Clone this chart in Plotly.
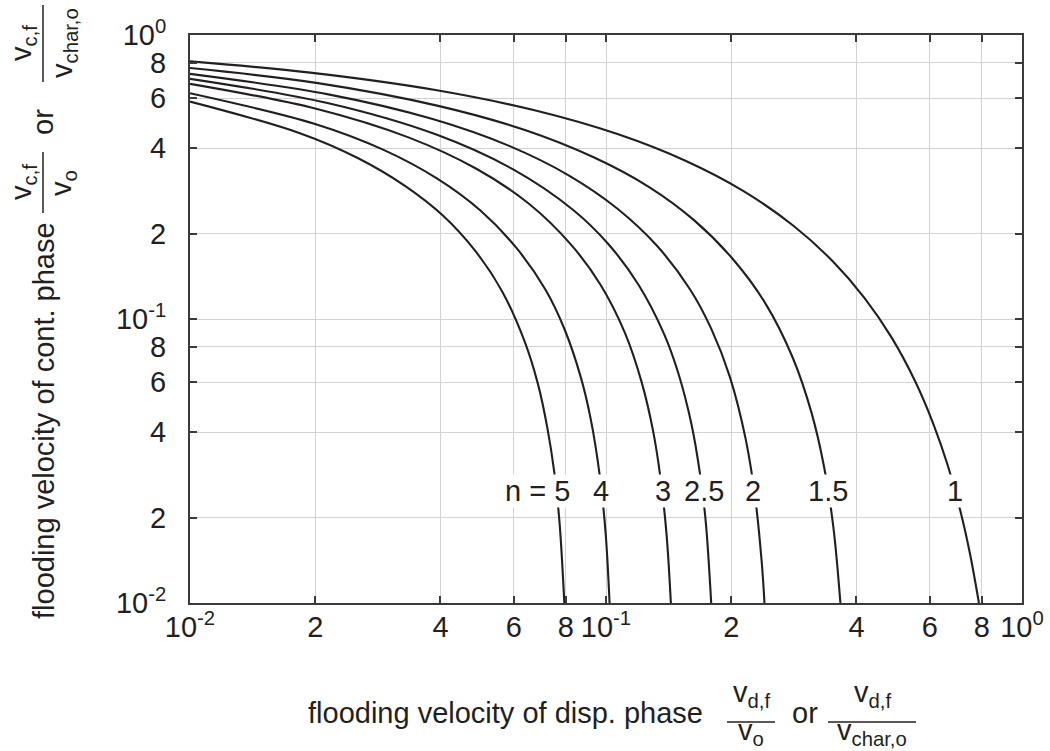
import math
import plotly.graph_objects as go

# ---------------- data ----------------
n_values = ["1", "1.5", "2", "2.5", "3", "4", "5"]

x_n1 = [0.01, 0.01946, 0.0389, 0.0681, 0.107, 0.1557, 0.2141, 0.2822, 0.3503, 0.4184, 0.4865, 0.5546, 0.613, 0.6616, 0.7103, 0.7492, 0.788]
y_n1 = [0.8075, 0.737, 0.640, 0.541, 0.447, 0.360, 0.282, 0.213, 0.160, 0.1185, 0.0858, 0.0600, 0.0425, 0.0308, 0.0212, 0.0150, 0.010]

x_n15 = [0.01, 0.0203, 0.0395, 0.0641, 0.0934, 0.1267, 0.163, 0.2015, 0.2412, 0.281, 0.312, 0.3343, 0.352, 0.366]
y_n15 = [0.765, 0.677, 0.563, 0.462, 0.371, 0.292, 0.2225, 0.163, 0.114, 0.0732, 0.0467, 0.0302, 0.0185, 0.010]

x_n2 = [0.01, 0.0215, 0.0383, 0.0585, 0.0815, 0.1064, 0.1326, 0.1593, 0.1791, 0.1984, 0.2168, 0.2285, 0.2369, 0.2404]
y_n2 = [0.730, 0.618, 0.506, 0.407, 0.320, 0.245, 0.181, 0.127, 0.0923, 0.0627, 0.0376, 0.0233, 0.0138, 0.010]

x_n25 = [0.01, 0.0214, 0.0391, 0.0601, 0.0834, 0.1015, 0.1197, 0.1377, 0.1493, 0.1605, 0.1685, 0.1737, 0.1790]
y_n25 = [0.701, 0.576, 0.446, 0.335, 0.242, 0.183, 0.132, 0.089, 0.0643, 0.0426, 0.0281, 0.0193, 0.010]

x_n3 = [0.01, 0.0201, 0.0335, 0.0488, 0.0654, 0.0826, 0.097, 0.1111, 0.1219, 0.1298, 0.1348, 0.1397, 0.1432]
y_n3 = [0.673, 0.550, 0.436, 0.338, 0.254, 0.182, 0.132, 0.0892, 0.0597, 0.0403, 0.0285, 0.0177, 0.010]

x_n4 = [0.01, 0.0199, 0.0292, 0.0393, 0.0499, 0.0607, 0.0715, 0.0794, 0.087, 0.0919, 0.0966, 0.0998, 0.1020]
y_n4 = [0.624, 0.487, 0.394, 0.312, 0.241, 0.179, 0.127, 0.0924, 0.0623, 0.0444, 0.0281, 0.0176, 0.010]

x_n5 = [0.01, 0.0183, 0.0253, 0.0328, 0.0406, 0.0484, 0.0562, 0.0637, 0.0686, 0.0723, 0.0751, 0.0773, 0.0794]
y_n5 = [0.583, 0.452, 0.369, 0.295, 0.231, 0.1744, 0.1256, 0.0836, 0.0591, 0.0413, 0.0289, 0.0193, 0.010]

tick_vals = [0.01, 0.02, 0.04, 0.06, 0.08, 0.1, 0.2, 0.4, 0.6, 0.8, 1.0]
tick_text = ["10<sup>-2</sup>", "2", "4", "6", "8", "10<sup>-1</sup>", "2", "4", "6", "8", "10<sup>0</sup>"]

curves = [
    (x_n1, y_n1), (x_n15, y_n15), (x_n2, y_n2), (x_n25, y_n25),
    (x_n3, y_n3), (x_n4, y_n4), (x_n5, y_n5),
]

# curve label texts and their positions (data units)
label_text = ["1", "1.5", "2", "2.5", "3", "4", "n = 5"]
label_x = [0.690, 0.3417, 0.2256, 0.172, 0.137, 0.0973, 0.0822]
label_anchor = ["center", "center", "center", "center", "center", "center", "right"]
label_y = 0.0248

# ---------------- styling / layout ----------------
W, H = 1050, 751
ML, MR, MT, MB = 190, 28, 35, 148
PW, PH = W - ML - MR, H - MT - MB
INK = "#231f20"
FONT = "Liberation Sans, Arial, Helvetica, sans-serif"
FS = 29


def px(xp):
    return (xp - ML) / PW


def py(yp):
    return (H - MB - yp) / PH


fig = go.Figure()
for cx, cy in curves:
    fig.add_trace(go.Scatter(
        x=cx, y=cy, mode="lines",
        line=dict(color=INK, width=2.1, shape="spline", smoothing=1.0),
        showlegend=False, hoverinfo="skip", cliponaxis=True,
    ))

axis_common = dict(
    type="log", tickvals=tick_vals, ticktext=tick_text,
    showgrid=True, gridcolor="#d2d2d2", gridwidth=1,
    ticks="inside", ticklen=7, tickwidth=1.5, tickcolor="#3a3a3a",
    showline=True, linecolor="#3a3a3a", linewidth=2, mirror="ticks",
    zeroline=False, tickfont=dict(family=FONT, size=FS, color=INK),
    automargin=False,
)

fig.update_layout(
    width=W, height=H,
    margin=dict(l=ML, r=MR, t=MT, b=MB, pad=0, autoexpand=False),
    paper_bgcolor="white", plot_bgcolor="white",
    font=dict(family=FONT, size=FS, color=INK),
    xaxis=dict(range=[-2, 0], ticklabelstandoff=-3, **axis_common),
    yaxis=dict(range=[-2, 0], ticklabelstandoff=16, **axis_common),
)

annotations = []
for t, lx, anc in zip(label_text, label_x, label_anchor):
    annotations.append(dict(
        x=math.log10(lx), y=math.log10(label_y), xref="x", yref="y",
        text=t, showarrow=False, xanchor=anc, yanchor="middle",
        bgcolor="white", borderpad=0, font=dict(size=FS, color=INK),
    ))


def note(x, y, text, angle=0, xa="center", ya="middle"):
    annotations.append(dict(
        x=px(x), y=py(y), xref="paper", yref="paper", text=text,
        showarrow=False, textangle=angle, xanchor=xa, yanchor=ya,
        font=dict(size=FS, color=INK),
    ))


# x axis title with fractions
note(505, 713, "flooding velocity of disp. phase")
note(751, 694, "v<sub>d,f</sub>")
note(751, 732, "v<sub>o</sub>")
note(805, 713, "or")
note(872, 694, "v<sub>d,f</sub>")
note(872, 732, "v<sub>char,o</sub>")

# y axis title with fractions (rotated)
note(44, 421, "flooding velocity of cont. phase", angle=-90)
note(23, 182, "v<sub>c,f</sub>", angle=-90)
note(63, 183, "v<sub>o</sub>", angle=-90)
note(43, 122, "or", angle=-90)
note(23, 43, "v<sub>c,f</sub>", angle=-90)
note(64, 43, "v<sub>char,o</sub>", angle=-90)

bar = dict(color=INK, width=1.5)
shapes = [
    dict(type="line", xref="paper", yref="paper", x0=px(727), x1=px(775), y0=py(722), y1=py(722), line=bar),
    dict(type="line", xref="paper", yref="paper", x0=px(828), x1=px(916), y0=py(722), y1=py(722), line=bar),
    dict(type="line", xref="paper", yref="paper", x0=px(43), x1=px(43), y0=py(152), y1=py(213), line=bar),
    dict(type="line", xref="paper", yref="paper", x0=px(43), x1=px(43), y0=py(5), y1=py(82), line=bar),
]

fig.update_layout(annotations=annotations, shapes=shapes)
fig.write_html("out.html")
